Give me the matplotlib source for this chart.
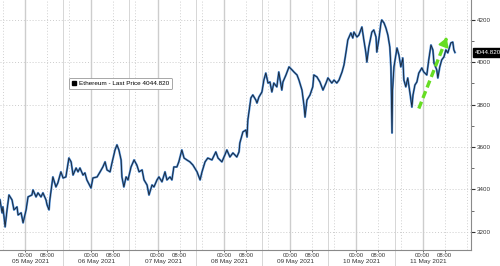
import matplotlib
matplotlib.use('Agg')
import matplotlib.pyplot as plt
from matplotlib.lines import Line2D
import matplotlib.transforms as mtransforms

plt.rcParams['font.family'] = ['Liberation Sans', 'DejaVu Sans']

hours = [-9.05, -8.3, -8.0, -7.2, -6.5, -5.8, -4.7, -4.0, -2.9, -2.5, -1.4, -0.7, 0.4, 1.1, 2.5, 2.9,
         4.0, 4.7, 5.8, 6.5, 7.6, 8.0, 8.7, 9.0, 9.8, 10.1, 11.2, 11.9, 13.0, 13.8, 14.8, 15.9,
         16.7, 17.4, 18.5, 19.2, 19.9, 21.0, 21.7, 22.4, 23.9, 24.6, 26.1, 27.2, 28.2, 29.0, 29.7,
         30.8, 31.5, 32.6, 33.3, 34.0, 34.8, 35.1, 35.8, 36.6, 37.3, 38.4, 39.5, 40.5, 41.3, 42.4,
         43.1, 44.2, 44.9, 46.0, 46.7, 47.8, 48.5, 49.6, 50.7, 51.4, 52.5, 53.2, 53.9, 55.0, 55.7,
         56.8, 57.6, 58.6, 59.7, 60.8, 62.3, 63.4, 64.1, 65.2, 66.2, 67.7, 69.1, 69.9, 71.3, 72.4,
         73.1, 74.2, 75.3, 76.7, 77.5,
         77.8, 78.9, 80.0, 80.4, 80.7, 81.8, 82.5, 83.6, 84.0, 84.7, 85.8, 86.5, 87.2, 88.0, 88.7,
         89.4, 90.1, 91.2, 91.9, 93.0, 93.4, 94.5, 95.6, 96.7, 97.4, 98.5, 99.2, 100.3, 101.0, 101.4,
         102.1, 103.2, 104.2, 104.6, 105.7, 106.8, 107.9, 109.0, 109.7, 111.1, 111.9, 112.9, 113.7,
         114.8, 115.5, 116.2, 116.9, 118.0, 118.7, 119.1, 120.2, 120.9, 122.0, 122.7, 123.4, 123.8,
         124.5, 125.6, 126.3, 127.1, 127.4, 128.1, 128.9, 129.2, 130.0, 130.7, 131.4, 132.1, 132.5,
         132.7, 132.9, 133.1, 133.6, 134.7, 135.4, 136.1, 136.8, 137.2, 137.9, 138.6, 139.4, 140.1,
         140.5, 141.2, 141.9, 142.6, 143.7, 144.4, 145.5, 146.2, 147.0, 147.7, 148.1, 149.1, 149.5,
         150.2, 150.9, 151.7, 152.4, 153.1, 154.2, 154.9, 155.3, 155.7]
price = [3351, 3290, 3318, 3224, 3304, 3374, 3351, 3304, 3318, 3280, 3290, 3243, 3304, 3365, 3374, 3398,
         3365, 3384, 3365, 3384, 3351, 3327, 3304, 3351, 3431, 3459, 3412, 3431, 3483, 3454, 3459, 3548,
         3530, 3468, 3501, 3483, 3501, 3468, 3478, 3445, 3407, 3454, 3459, 3483, 3506, 3530, 3492,
         3483, 3525, 3586, 3610, 3586, 3539, 3459, 3412, 3459, 3445, 3506, 3539, 3515, 3483, 3492,
         3445, 3421, 3374, 3421, 3412, 3445, 3459, 3436, 3483, 3445, 3459, 3445, 3506, 3506, 3530,
         3586, 3548, 3539, 3530, 3515, 3483, 3445, 3483, 3530, 3548, 3539, 3577, 3548, 3530, 3563,
         3586, 3553, 3572, 3553, 3577,
         3619, 3671, 3680, 3647, 3727, 3831, 3845, 3821, 3807, 3835, 3859, 3915, 3948, 3901, 3906,
         3859, 3901, 3883, 3953, 3868, 3906, 3939, 3977, 3963, 3953, 3939, 3915, 3868, 3798, 3741,
         3821, 3845, 3883, 3939, 3930, 3906, 3868, 3901, 3925, 3901, 3915, 3901, 3915,
         3953, 3986, 4043, 4104, 4137, 4113, 4141, 4118, 4127, 4165, 4104, 4047, 4000,
         4071, 4141, 4151, 4118, 4047, 4104, 4184, 4198, 4184, 4160, 4127, 4071, 3977,
         3821, 3666, 3868, 3977, 4066, 4033, 3977, 4019, 3915, 3883, 3925, 3854, 3788,
         3845, 3892, 3906, 3948, 3972, 3953, 3939, 4010, 4080, 4057, 3995, 3963, 3925,
         3977, 4010, 4024, 4057, 4043, 4090, 4094, 4057, 4045]

last_price = 4044.820
series_label = 'Ethereum - Last Price'
days = ['05 May 2021', '06 May 2021', '07 May 2021', '08 May 2021',
        '09 May 2021', '10 May 2021', '11 May 2021']
y_ticks = [3200, 3400, 3600, 3800, 4000, 4200]

# green arrow drawn on the chart (hours, price)
arrow_h = [142.6, 153.1]
arrow_p = [3781, 4127]

fig = plt.figure(figsize=(5, 2.66), dpi=100)
ax = fig.add_axes([0, 16 / 266, 471 / 500, 250 / 266])
ax.set_xlim(-9.05, 161.5)
ax.set_ylim(3115, 4292)

# grid
for k in range(-1, 7):
    ax.axvline(24 * k, color='#cdcdcd', lw=1.0, zorder=0)
    ax.axvline(24 * k + 8, color='#d0d0d0', lw=0.7, ls=(0, (1, 2)), zorder=0)
    ax.axvline(24 * k + 16, color='#d0d0d0', lw=0.7, ls=(0, (1, 2)), zorder=0)
for k in range(6):
    ax.axvline(24 * k + 13.8, ymin=-0.064, ymax=1, color='#d6d6d6', lw=0.7,
               zorder=0, clip_on=False)
for v in y_ticks:
    ax.axhline(v, color='#cccccc', lw=0.7, ls=(0, (1, 2)), zorder=0)

ax.plot(hours, price, color='#4a8ad4', lw=1.5, zorder=2)
ax.plot(hours, price, color='#18222f', lw=0.6, zorder=3)

# arrow
ax.plot(arrow_h, arrow_p, color='#66dd22', lw=2.4, ls=(0, (2.2, 1.2)),
        solid_capstyle='butt', zorder=4)
ax.annotate('', xy=(arrow_h[1], arrow_p[1]),
            xytext=(arrow_h[1] - 0.9, arrow_p[1] - 30),
            arrowprops=dict(arrowstyle='-|>,head_length=0.5,head_width=0.3',
                            color='#66dd22', lw=1.5), zorder=5)

# axes styling
for s in ['left', 'top']:
    ax.spines[s].set_visible(False)
for s in ['right', 'bottom']:
    ax.spines[s].set_color('#8a8a8a')
    ax.spines[s].set_linewidth(0.8)

ax.yaxis.tick_right()
ax.set_yticks(y_ticks)
ax.set_yticks([3300, 3500, 3700, 3900, 4100], minor=True)
ax.tick_params(axis='y', which='major', length=3, width=0.8, color='#333333',
               labelsize=4.5, pad=1.5, labelcolor='#333333')
ax.tick_params(axis='y', which='minor', length=1.8, width=0.6, color='#555555')

xt, xl = [], []
for k in range(7):
    xt += [24 * k, 24 * k + 8]
    xl += ['00:00', '08:00']
ax.set_xticks(xt)
ax.set_xticklabels(xl)
ax.tick_params(axis='x', length=1.5, width=0.6, color='#555555',
               labelsize=4.3, pad=1, labelcolor='#333333')

trans = mtransforms.blended_transform_factory(ax.transData, ax.transAxes)
for k, d in enumerate(days):
    ax.text(24 * k + 2, -0.048, d, transform=trans, ha='center', va='center',
            fontsize=4.6, color='#333333')

ax.annotate(f'{last_price:.3f}', xy=(1, last_price),
            xycoords=('axes fraction', 'data'), xytext=(2.5, 0),
            textcoords='offset points', ha='left', va='center',
            color='white', fontsize=4.5,
            bbox=dict(boxstyle='square,pad=0.25', fc='black', ec='black'),
            annotation_clip=False)

handle = Line2D([], [], color='black', marker='s', ls='none', markersize=3.5)
leg = ax.legend([handle], [f'{series_label} {last_price:.3f}'], loc='upper left',
                bbox_to_anchor=(69 / 471, 1 - 78 / 250), fontsize=4.6,
                frameon=True, fancybox=True, edgecolor='#999999', framealpha=1,
                handlelength=0.8, handletextpad=0.3, borderpad=0.45,
                borderaxespad=0)
leg.get_frame().set_linewidth(0.6)

fig.savefig('out.png', dpi=100)
